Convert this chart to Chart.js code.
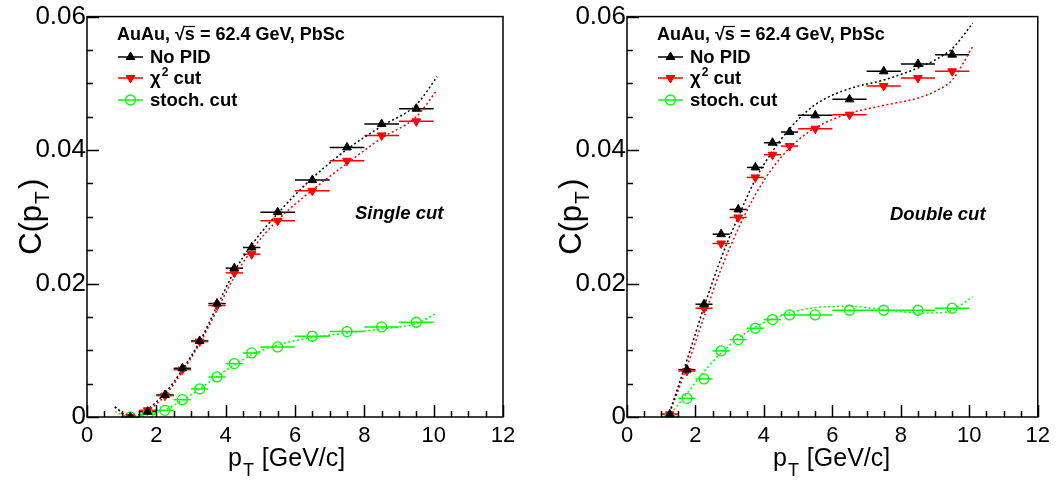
<!DOCTYPE html>
<html>
<head>
<meta charset="utf-8">
<script src="https://cdn.jsdelivr.net/npm/chart.js@4.4.1/dist/chart.umd.min.js"></script>
<style>
  html, body { margin: 0; padding: 0; background: #fff; }
  #wrap { position: relative; width: 1056px; height: 485px; }
  .pane { position: absolute; top: 0; height: 485px; }
</style>
</head>
<body>
<div id="wrap">
  <div class="pane" style="left:0;width:540px"><canvas id="single" width="540" height="485"></canvas></div>
  <div class="pane" style="left:540px;width:516px"><canvas id="double" width="516" height="485"></canvas></div>
</div>
<script>
// pT bins (GeV/c) and half bin widths
const ptBins = [1.25, 1.75, 2.25, 2.75, 3.25, 3.75, 4.25, 4.75, 5.5, 6.5, 7.5, 8.5, 9.5];
const ptErr  = [0.25, 0.25, 0.25, 0.25, 0.25, 0.25, 0.25, 0.25, 0.5, 0.5, 0.5, 0.5, 0.5];

const xTicks = [0, 2, 4, 6, 8, 10, 12];
const yTicks = [0, 0.02, 0.04, 0.06];

// single cut
const singleNoPid = [0.0000, 0.0008, 0.0033, 0.0073, 0.0114, 0.0170, 0.0223, 0.0254, 0.0307, 0.0355, 0.0404, 0.0439, 0.0462];
const singleChi2  = [0.0000, 0.0010, 0.0032, 0.0071, 0.0113, 0.0167, 0.0216, 0.0244, 0.0294, 0.0339, 0.0384, 0.0422, 0.0443];
const singleStoch = [0.0000, 0.0004, 0.0010, 0.0026, 0.0042, 0.0060, 0.0080, 0.0096, 0.0105, 0.0121, 0.0128, 0.0135, 0.0142];

// double cut
const doubleNoPid = [0.0004, 0.0071, 0.0169, 0.0274, 0.0311, 0.0374, 0.0411, 0.0427, 0.0452, 0.0476, 0.0518, 0.0529, 0.0543];
const doubleChi2  = [0.0004, 0.0069, 0.0163, 0.0260, 0.0299, 0.0359, 0.0393, 0.0406, 0.0432, 0.0453, 0.0496, 0.0508, 0.0518];
const doubleStoch = [0.0000, 0.0028, 0.0057, 0.0099, 0.0116, 0.0133, 0.0146, 0.0153, 0.0153, 0.0160, 0.0160, 0.0160, 0.0163];

// fit curves (dotted)
const singleFitPt    = [0.8, 1.25, 1.75, 2.25, 2.75, 3.25, 3.75, 4.25, 4.75, 5.5, 6.5, 7.5, 8.5, 9.5, 10.1];
const singleFitNoPid = [0.0015, 0.0000, 0.0012, 0.0036, 0.0071, 0.0113, 0.0166, 0.0218, 0.0258, 0.0305, 0.0358, 0.0401, 0.0436, 0.0468, 0.0510];
const singleFitChi2  = [0.0015, 0.0000, 0.0010, 0.0032, 0.0068, 0.0110, 0.0160, 0.0210, 0.0250, 0.0295, 0.0340, 0.0380, 0.0418, 0.0450, 0.0490];
const singleFitStoch = [0.0008, 0.0000, 0.0004, 0.0011, 0.0025, 0.0042, 0.0061, 0.0078, 0.0093, 0.0108, 0.0119, 0.0126, 0.0132, 0.0140, 0.0156];

const doubleFitPt    = [1.2, 1.75, 2.25, 2.75, 3.25, 3.75, 4.25, 4.75, 5.25, 5.75, 6.5, 7.5, 8.5, 9.0, 9.5, 10.1];
const doubleFitNoPid = [0.0000, 0.0085, 0.0165, 0.0238, 0.0300, 0.0356, 0.0398, 0.0432, 0.0458, 0.0476, 0.0492, 0.0505, 0.0523, 0.0535, 0.0552, 0.0590];
const doubleFitChi2  = [0.0000, 0.0075, 0.0150, 0.0222, 0.0282, 0.0333, 0.0373, 0.0403, 0.0425, 0.0440, 0.0455, 0.0467, 0.0478, 0.0488, 0.0505, 0.0555];
const doubleFitStoch = [0.0000, 0.0035, 0.0068, 0.0096, 0.0118, 0.0135, 0.0147, 0.0156, 0.0162, 0.0165, 0.0166, 0.0161, 0.0156, 0.0156, 0.0160, 0.0180];

const BLACK = '#000000';
const RED   = '#ff0000';
const GREEN = '#00ff00';
const FONT  = '"Liberation Sans", Arial, Helvetica, sans-serif';

function pts(xs, ys) {
    return xs.map((x, i) => ({ x: x, y: ys[i] }));
}

function fitSet(xs, ys, color) {
    return {
        data: pts(xs, ys),
        showLine: true,
        borderColor: color,
        borderWidth: 1.5,
        borderDash: [2, 2.5],
        pointRadius: 0,
        cubicInterpolationMode: 'monotone',
        fill: false,
        order: 2
    };
}

function markSet(ys, color, style) {
    const s = {
        data: pts(ptBins, ys),
        xerr: ptErr,
        borderColor: color,
        backgroundColor: color,
        pointStyle: style.shape,
        pointRadius: style.r,
        pointRotation: style.rot || 0,
        borderWidth: style.bw || 1,
        showLine: false,
        order: 1
    };
    if (style.open) s.backgroundColor = 'rgba(0,0,0,0)';
    return s;
}

const TRI_UP   = { shape: 'triangle', r: 5 };
const TRI_DOWN = { shape: 'triangle', r: 5, rot: 180 };
const CIRCLE   = { shape: 'circle', r: 5, open: true, bw: 1.3 };

// ROOT-like frame, inward ticks, error bars, legend, labels
const rootPlugin = {
    id: 'rootStyle',
    beforeDatasetsDraw(chart) {
        const ctx = chart.ctx;
        const xs = chart.scales.x, ys = chart.scales.y;
        ctx.save();
        chart.data.datasets.forEach(ds => {
            if (!ds.xerr) return;
            ctx.strokeStyle = ds.borderColor;
            ctx.lineWidth = 1.5;
            ds.data.forEach((p, i) => {
                const py = ys.getPixelForValue(p.y);
                ctx.beginPath();
                ctx.moveTo(xs.getPixelForValue(p.x - ds.xerr[i]), py);
                ctx.lineTo(xs.getPixelForValue(p.x + ds.xerr[i]), py);
                ctx.stroke();
            });
        });
        ctx.restore();
    },
    afterDraw(chart, args, o) {
        const ctx = chart.ctx;
        const a = chart.chartArea;
        const xs = chart.scales.x, ys = chart.scales.y;
        ctx.save();
        ctx.strokeStyle = '#000';
        ctx.lineWidth = 1.5;
        ctx.strokeRect(a.left, a.top, a.right - a.left, a.bottom - a.top);

        // x ticks (inward)
        for (let v = 0; v <= 12.001; v += 0.5) {
            const px = Math.round(xs.getPixelForValue(v)) + 0.5;
            const major = Math.abs(v / 2 - Math.round(v / 2)) < 1e-6;
            ctx.beginPath();
            ctx.moveTo(px, a.bottom);
            ctx.lineTo(px, a.bottom - (major ? 12 : 6));
            ctx.stroke();
        }
        // y ticks (inward)
        for (let k = 0; k <= 12; k++) {
            const py = Math.round(ys.getPixelForValue(k * 0.005)) + 0.5;
            const major = k % 4 === 0;
            ctx.beginPath();
            ctx.moveTo(a.left, py);
            ctx.lineTo(a.left + (major ? 12 : 6), py);
            ctx.stroke();
        }

        ctx.fillStyle = '#000';
        ctx.textBaseline = 'alphabetic';
        ctx.textAlign = 'left';

        // y axis title C(p_T), centred on the axis
        ctx.save();
        ctx.font = '31px ' + FONT;
        const wMain = ctx.measureText('C(p').width, wClose = ctx.measureText(')').width;
        ctx.font = '21px ' + FONT;
        const wSub = ctx.measureText('T').width + 3;
        const total = wMain + wSub + wClose;
        const midY = (a.top + a.bottom) / 2;
        ctx.translate(o.yTitleX, midY + total / 2);
        ctx.rotate(-Math.PI / 2);
        ctx.font = '31px ' + FONT;
        ctx.fillText('C(p', 0, 0);
        ctx.font = '21px ' + FONT;
        ctx.fillText('T', wMain + 1, 8);
        ctx.font = '31px ' + FONT;
        ctx.fillText(')', wMain + wSub, 0);
        ctx.restore();

        // x axis title p_T [GeV/c]
        ctx.font = '25px ' + FONT;
        let xx = o.xTitleX;
        ctx.fillText('p', xx, 466); xx += ctx.measureText('p').width;
        ctx.font = '18px ' + FONT;
        ctx.fillText('T', xx + 1, 476); xx += ctx.measureText('T').width + 2;
        ctx.font = '25px ' + FONT;
        ctx.fillText(' [GeV/c]', xx, 466);

        // legend header
        const lx = a.left + 30;
        ctx.font = 'bold 18px ' + FONT;
        const head1 = 'AuAu, \u221a';
        ctx.fillText(head1 + 's = 62.4 GeV, PbSc', lx, 40);
        const sx = lx + ctx.measureText(head1).width;
        const sw = ctx.measureText('s').width;
        ctx.lineWidth = 1.2;
        ctx.beginPath();
        ctx.moveTo(sx - 1, 26.5);
        ctx.lineTo(sx + sw, 26.5);
        ctx.stroke();

        // legend entries
        const rows = [
            { y: 57, color: BLACK },
            { y: 78, color: RED },
            { y: 100, color: GREEN }
        ];
        const markers = chart.data.datasets.filter(d => d.xerr);
        rows.forEach((r, i) => {
            const m = markers[i];
            ctx.strokeStyle = r.color;
            ctx.lineWidth = 1.5;
            ctx.beginPath();
            ctx.moveTo(lx + 1, r.y);
            ctx.lineTo(lx + 26, r.y);
            ctx.stroke();
            ctx.fillStyle = m.backgroundColor;
            ctx.strokeStyle = m.borderColor;
            ctx.lineWidth = m.borderWidth;
            Chart.helpers.drawPoint(ctx, {
                pointStyle: m.pointStyle, radius: m.pointRadius,
                rotation: m.pointRotation, borderWidth: m.borderWidth
            }, lx + 13.5, r.y);
        });
        ctx.fillStyle = '#000';
        ctx.font = 'bold 18.5px ' + FONT;
        const tx = lx + 33;
        ctx.fillText('No PID', tx, 63);
        ctx.fillText('\u03c7', tx, 84);
        let cw = ctx.measureText('\u03c7').width;
        ctx.font = 'bold 12px ' + FONT;
        ctx.fillText('2', tx + cw + 1, 76);
        const c2 = ctx.measureText('2').width;
        ctx.font = 'bold 18.5px ' + FONT;
        ctx.fillText(' cut', tx + cw + c2 + 1, 84);
        ctx.fillText('stoch. cut', tx, 106);

        // annotation
        ctx.font = 'italic bold 18.5px ' + FONT;
        ctx.fillText(o.note, o.noteX, o.noteY);
        ctx.restore();
    }
};

function makePanel(id, series, fits, fitPt, pad, note) {
    const datasets = [
        markSet(series[0], BLACK, TRI_UP),
        markSet(series[1], RED, TRI_DOWN),
        markSet(series[2], GREEN, CIRCLE),
        fitSet(fitPt, fits[0], BLACK),
        fitSet(fitPt, fits[1], RED),
        fitSet(fitPt, fits[2], GREEN)
    ];
    return new Chart(document.getElementById(id), {
        type: 'scatter',
        data: { datasets: datasets },
        options: {
            responsive: false,
            animation: false,
            devicePixelRatio: 1,
            layout: { padding: { top: 13, right: pad, left: 0, bottom: 0 } },
            plugins: {
                legend: { display: false },
                tooltip: { enabled: false },
                rootStyle: note
            },
            scales: {
                x: {
                    type: 'linear',
                    min: 0, max: 12,
                    afterBuildTicks: s => { s.ticks = xTicks.map(v => ({ value: v })); },
                    afterFit: s => { s.height = 68; },
                    ticks: {
                        color: '#000',
                        font: { family: FONT, size: 22 },
                        padding: 6,
                        maxRotation: 0,
                        callback: v => String(v)
                    },
                    grid: { display: false, drawTicks: false },
                    border: { display: false }
                },
                y: {
                    type: 'linear',
                    min: 0, max: 0.06,
                    afterBuildTicks: s => { s.ticks = yTicks.map(v => ({ value: v })); },
                    afterFit: s => { s.width = 87; },
                    ticks: {
                        color: '#000',
                        font: { family: FONT, size: 26 },
                        padding: 1,
                        callback: v => (v === 0 ? '0' : v.toFixed(2))
                    },
                    grid: { display: false, drawTicks: false },
                    border: { display: false }
                }
            }
        },
        plugins: [rootPlugin]
    });
}

makePanel('single',
    [singleNoPid, singleChi2, singleStoch],
    [singleFitNoPid, singleFitChi2, singleFitStoch],
    singleFitPt, 37,
    { note: 'Single cut', noteX: 355, noteY: 219, xTitleX: 228, yTitleX: 41 });

makePanel('double',
    [doubleNoPid, doubleChi2, doubleStoch],
    [doubleFitNoPid, doubleFitChi2, doubleFitStoch],
    doubleFitPt, 14,
    { note: 'Double cut', noteX: 350, noteY: 220, xTitleX: 233, yTitleX: 41 });
</script>
</body>
</html>
